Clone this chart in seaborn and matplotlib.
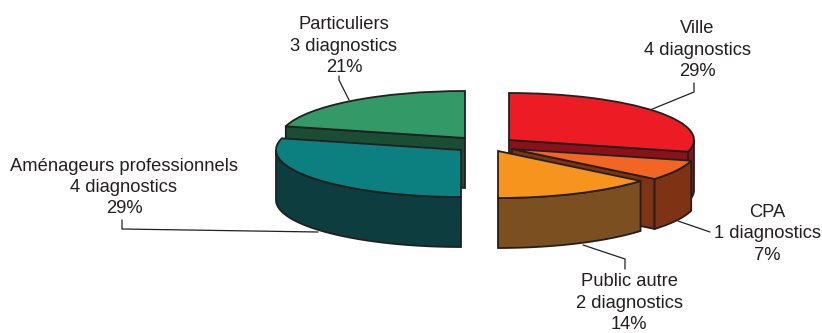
import numpy as np
import matplotlib
matplotlib.use("Agg")
import matplotlib.pyplot as plt
from matplotlib.patches import Polygon
import seaborn as sns

# Data
categories = ["Ville", "CPA", "Public autre", "Aménageurs professionnels", "Particuliers"]
diagnostics = [4, 1, 2, 4, 3]
percents = [29, 7, 14, 29, 21]

# Style
top_colors = ["#ED1C24", "#F26522", "#F7941D", "#0C8080", "#339966"]
side_colors = ["#8B1118", "#7F3315", "#7B4F20", "#0D3D3F", "#1A4D33"]
EDGE = "#231F20"
W, H = 822, 333
RX, RY, DEPTH = 185.0, 47.0, 50.0
apex_px = [(509, 140), (512, 149), (498, 151), (461, 150), (465, 138)]
draw_order = [4, 0, 3, 1, 2]
label_px = [(697, 50), (767, 234), (629, 303), (124, 187.5), (344, 46)]
leaders_px = [
    [(650, 110), (694, 92), (694, 83)],
    [(678, 221), (710, 232)],
    [(583, 245), (625, 259), (625, 269)],
    [(318, 232), (122, 229), (122, 220)],
    [(349, 100), (339, 80), (339, 76)],
]

sns.set_theme(style="white")
plt.rcParams["font.family"] = ["Liberation Sans", "DejaVu Sans"]

fig, ax = plt.subplots(figsize=(W / 100, H / 100), dpi=100)
ax.set_position([0, 0, 1, 1])

wedges, _ = ax.pie(percents, startangle=90, counterclock=False, colors=top_colors,
                   wedgeprops=dict(edgecolor=EDGE, linewidth=1.3))
ax.set_aspect("auto")
CX, CY = 485.0, 145.0
ax.set_xlim(-CX / RX, (W - CX) / RX)
ax.set_ylim((CY - H) / RY, CY / RY)
ax.axis("off")


def to_data(x, y):
    return (x - CX) / RX, (CY - y) / RY


dz = DEPTH / RY
palette = sns.color_palette(side_colors)

for rank, i in enumerate(draw_order):
    w = wedges[i]
    c = np.array(to_data(*apex_px[i]))
    w.set_center(tuple(c))
    t1, t2 = w.theta1, w.theta2
    z = 2 * rank + 3

    def face(a):
        p = c + [np.cos(np.radians(a)), np.sin(np.radians(a))]
        pts = [c, p, p - [0, dz], c - [0, dz]]
        ax.add_patch(Polygon(pts, closed=True, fc=palette[i], ec=EDGE, lw=1.3, zorder=z))

    for a, sign in ((t1, 1), (t2, -1)):
        if sign * np.cos(np.radians(a)) > 1e-6:
            face(a)
    # outer wall: visible lower half of the rim
    for k in (-1, 0, 1):
        lo, hi = max(t1, 180 + 360 * k), min(t2, 360 + 360 * k)
        if hi > lo:
            th = np.radians(np.linspace(lo, hi, 80))
            rim = np.c_[np.cos(th) + c[0], np.sin(th) + c[1]]
            pts = np.vstack([rim, (rim - [0, dz])[::-1]])
            ax.add_patch(Polygon(pts, closed=True, fc=palette[i], ec=EDGE, lw=1.3, zorder=z))
    w.set_zorder(z + 1)

for i, cat in enumerate(categories):
    pts = np.array([to_data(*p) for p in leaders_px[i]])
    ax.plot(pts[:, 0], pts[:, 1], color=EDGE, lw=0.9, zorder=1)
    x, y = to_data(*label_px[i])
    ax.text(x, y, f"{cat}\n{diagnostics[i]} diagnostics\n{percents[i]}%",
            ha="center", va="center", fontsize=13.2,
            color="#231F20", linespacing=1.34, clip_on=False)

fig.savefig("out.png", dpi=100)
